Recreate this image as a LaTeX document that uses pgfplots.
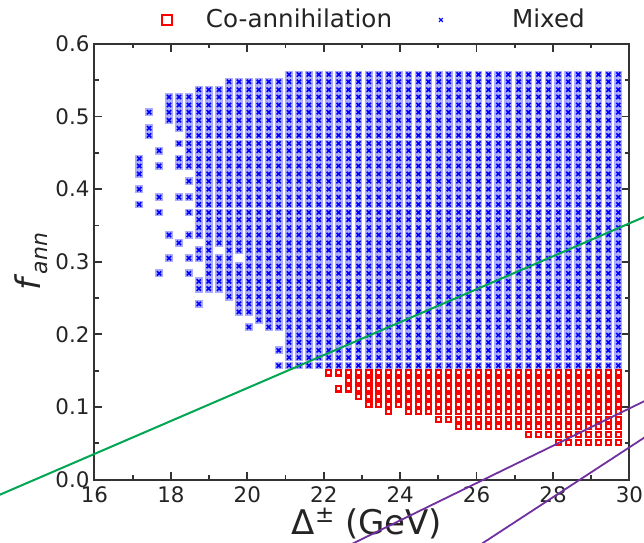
\documentclass[border=0pt]{standalone}
\usepackage{pgfplots}
\pgfplotsset{compat=1.18}
\usepackage{pgfplotstable}
\usepackage{fontspec}
\setmainfont{DejaVu Sans}

\definecolor{mixblue}{RGB}{0,0,255}
\definecolor{haloblue}{RGB}{172,172,255}
\definecolor{coared}{RGB}{255,0,0}
\definecolor{cutgreen}{RGB}{0,166,81}
\definecolor{cutpurple}{RGB}{112,48,160}
\definecolor{axisgray}{RGB}{51,51,51}

% Scan points classified as "Mixed" (Delta^pm in GeV, f_ann)
\pgfplotstableread{
x y
17.17 0.379
17.17 0.400
17.17 0.421
17.17 0.432
17.17 0.442
17.43 0.474
17.43 0.484
17.43 0.506
17.69 0.284
17.69 0.368
17.69 0.389
17.69 0.432
17.69 0.453
17.95 0.305
17.95 0.337
17.95 0.495
17.95 0.506
17.95 0.516
17.95 0.527
18.21 0.326
18.21 0.389
18.21 0.432
18.21 0.442
18.21 0.463
18.21 0.484
18.21 0.495
18.21 0.506
18.21 0.516
18.21 0.527
18.47 0.284
18.47 0.305
18.47 0.337
18.47 0.368
18.47 0.389
18.47 0.411
18.47 0.432
18.47 0.442
18.47 0.453
18.47 0.463
18.47 0.474
18.47 0.484
18.47 0.495
18.47 0.506
18.47 0.516
18.47 0.527
18.73 0.242
18.73 0.263
18.73 0.273
18.73 0.305
18.73 0.316
18.73 0.337
18.73 0.347
18.73 0.358
18.73 0.368
18.73 0.379
18.73 0.389
18.73 0.400
18.73 0.411
18.73 0.421
18.73 0.432
18.73 0.442
18.73 0.453
18.73 0.463
18.73 0.474
18.73 0.484
18.73 0.495
18.73 0.506
18.73 0.516
18.73 0.527
18.73 0.537
18.99 0.263
18.99 0.273
18.99 0.284
18.99 0.294
18.99 0.305
18.99 0.316
18.99 0.326
18.99 0.337
18.99 0.347
18.99 0.358
18.99 0.368
18.99 0.379
18.99 0.389
18.99 0.400
18.99 0.411
18.99 0.421
18.99 0.432
18.99 0.442
18.99 0.453
18.99 0.463
18.99 0.474
18.99 0.484
18.99 0.495
18.99 0.506
18.99 0.516
18.99 0.527
18.99 0.537
19.26 0.263
19.26 0.273
19.26 0.284
19.26 0.294
19.26 0.305
19.26 0.326
19.26 0.337
19.26 0.347
19.26 0.358
19.26 0.368
19.26 0.379
19.26 0.389
19.26 0.400
19.26 0.411
19.26 0.421
19.26 0.432
19.26 0.442
19.26 0.453
19.26 0.463
19.26 0.474
19.26 0.484
19.26 0.495
19.26 0.506
19.26 0.516
19.26 0.527
19.26 0.537
19.52 0.252
19.52 0.263
19.52 0.273
19.52 0.284
19.52 0.294
19.52 0.305
19.52 0.316
19.52 0.326
19.52 0.337
19.52 0.347
19.52 0.358
19.52 0.368
19.52 0.379
19.52 0.389
19.52 0.400
19.52 0.411
19.52 0.421
19.52 0.432
19.52 0.442
19.52 0.453
19.52 0.463
19.52 0.474
19.52 0.484
19.52 0.495
19.52 0.506
19.52 0.516
19.52 0.527
19.52 0.537
19.52 0.548
19.78 0.231
19.78 0.242
19.78 0.252
19.78 0.263
19.78 0.273
19.78 0.284
19.78 0.294
19.78 0.316
19.78 0.326
19.78 0.337
19.78 0.347
19.78 0.358
19.78 0.368
19.78 0.379
19.78 0.389
19.78 0.400
19.78 0.411
19.78 0.421
19.78 0.432
19.78 0.442
19.78 0.453
19.78 0.463
19.78 0.474
19.78 0.484
19.78 0.495
19.78 0.506
19.78 0.516
19.78 0.527
19.78 0.537
19.78 0.548
20.04 0.210
20.04 0.231
20.04 0.242
20.04 0.252
20.04 0.263
20.04 0.273
20.04 0.284
20.04 0.294
20.04 0.305
20.04 0.316
20.04 0.326
20.04 0.337
20.04 0.347
20.04 0.358
20.04 0.368
20.04 0.379
20.04 0.389
20.04 0.400
20.04 0.411
20.04 0.421
20.04 0.432
20.04 0.442
20.04 0.453
20.04 0.463
20.04 0.474
20.04 0.484
20.04 0.495
20.04 0.506
20.04 0.516
20.04 0.527
20.04 0.537
20.04 0.548
20.30 0.220
20.30 0.231
20.30 0.242
20.30 0.252
20.30 0.263
20.30 0.273
20.30 0.284
20.30 0.294
20.30 0.305
20.30 0.316
20.30 0.326
20.30 0.337
20.30 0.347
20.30 0.358
20.30 0.368
20.30 0.379
20.30 0.389
20.30 0.400
20.30 0.411
20.30 0.421
20.30 0.432
20.30 0.442
20.30 0.453
20.30 0.463
20.30 0.474
20.30 0.484
20.30 0.495
20.30 0.506
20.30 0.516
20.30 0.527
20.30 0.537
20.30 0.548
20.56 0.210
20.56 0.220
20.56 0.231
20.56 0.242
20.56 0.252
20.56 0.263
20.56 0.273
20.56 0.284
20.56 0.294
20.56 0.305
20.56 0.316
20.56 0.326
20.56 0.337
20.56 0.347
20.56 0.358
20.56 0.368
20.56 0.379
20.56 0.389
20.56 0.400
20.56 0.411
20.56 0.421
20.56 0.432
20.56 0.442
20.56 0.453
20.56 0.463
20.56 0.474
20.56 0.484
20.56 0.495
20.56 0.506
20.56 0.516
20.56 0.527
20.56 0.537
20.56 0.548
20.82 0.157
20.82 0.178
20.82 0.210
20.82 0.220
20.82 0.231
20.82 0.242
20.82 0.252
20.82 0.263
20.82 0.273
20.82 0.284
20.82 0.294
20.82 0.305
20.82 0.316
20.82 0.326
20.82 0.337
20.82 0.347
20.82 0.358
20.82 0.368
20.82 0.379
20.82 0.389
20.82 0.400
20.82 0.411
20.82 0.421
20.82 0.432
20.82 0.442
20.82 0.453
20.82 0.463
20.82 0.474
20.82 0.484
20.82 0.495
20.82 0.506
20.82 0.516
20.82 0.527
20.82 0.537
20.82 0.548
21.09 0.157
21.09 0.168
21.09 0.178
21.09 0.189
21.09 0.199
21.09 0.210
21.09 0.220
21.09 0.231
21.09 0.242
21.09 0.252
21.09 0.263
21.09 0.273
21.09 0.284
21.09 0.294
21.09 0.305
21.09 0.316
21.09 0.326
21.09 0.337
21.09 0.347
21.09 0.358
21.09 0.368
21.09 0.379
21.09 0.389
21.09 0.400
21.09 0.411
21.09 0.421
21.09 0.432
21.09 0.442
21.09 0.453
21.09 0.463
21.09 0.474
21.09 0.484
21.09 0.495
21.09 0.506
21.09 0.516
21.09 0.527
21.09 0.537
21.09 0.548
21.09 0.558
21.35 0.157
21.35 0.168
21.35 0.178
21.35 0.189
21.35 0.199
21.35 0.210
21.35 0.220
21.35 0.231
21.35 0.242
21.35 0.252
21.35 0.263
21.35 0.273
21.35 0.284
21.35 0.294
21.35 0.305
21.35 0.316
21.35 0.326
21.35 0.337
21.35 0.347
21.35 0.358
21.35 0.368
21.35 0.379
21.35 0.389
21.35 0.400
21.35 0.411
21.35 0.421
21.35 0.432
21.35 0.442
21.35 0.453
21.35 0.463
21.35 0.474
21.35 0.484
21.35 0.495
21.35 0.506
21.35 0.516
21.35 0.527
21.35 0.537
21.35 0.548
21.35 0.558
21.61 0.157
21.61 0.168
21.61 0.178
21.61 0.189
21.61 0.199
21.61 0.210
21.61 0.220
21.61 0.231
21.61 0.242
21.61 0.252
21.61 0.263
21.61 0.273
21.61 0.284
21.61 0.294
21.61 0.305
21.61 0.316
21.61 0.326
21.61 0.337
21.61 0.347
21.61 0.358
21.61 0.368
21.61 0.379
21.61 0.389
21.61 0.400
21.61 0.411
21.61 0.421
21.61 0.432
21.61 0.442
21.61 0.453
21.61 0.463
21.61 0.474
21.61 0.484
21.61 0.495
21.61 0.506
21.61 0.516
21.61 0.527
21.61 0.537
21.61 0.548
21.61 0.558
21.87 0.157
21.87 0.168
21.87 0.178
21.87 0.189
21.87 0.199
21.87 0.210
21.87 0.220
21.87 0.231
21.87 0.242
21.87 0.252
21.87 0.263
21.87 0.273
21.87 0.284
21.87 0.294
21.87 0.305
21.87 0.316
21.87 0.326
21.87 0.337
21.87 0.347
21.87 0.358
21.87 0.368
21.87 0.379
21.87 0.389
21.87 0.400
21.87 0.411
21.87 0.421
21.87 0.432
21.87 0.442
21.87 0.453
21.87 0.463
21.87 0.474
21.87 0.484
21.87 0.495
21.87 0.506
21.87 0.516
21.87 0.527
21.87 0.537
21.87 0.548
21.87 0.558
22.13 0.157
22.13 0.168
22.13 0.178
22.13 0.189
22.13 0.199
22.13 0.210
22.13 0.220
22.13 0.231
22.13 0.242
22.13 0.252
22.13 0.263
22.13 0.273
22.13 0.284
22.13 0.294
22.13 0.305
22.13 0.316
22.13 0.326
22.13 0.337
22.13 0.347
22.13 0.358
22.13 0.368
22.13 0.379
22.13 0.389
22.13 0.400
22.13 0.411
22.13 0.421
22.13 0.432
22.13 0.442
22.13 0.453
22.13 0.463
22.13 0.474
22.13 0.484
22.13 0.495
22.13 0.506
22.13 0.516
22.13 0.527
22.13 0.537
22.13 0.548
22.13 0.558
22.39 0.157
22.39 0.168
22.39 0.178
22.39 0.189
22.39 0.199
22.39 0.210
22.39 0.220
22.39 0.231
22.39 0.242
22.39 0.252
22.39 0.263
22.39 0.273
22.39 0.284
22.39 0.294
22.39 0.305
22.39 0.316
22.39 0.326
22.39 0.337
22.39 0.347
22.39 0.358
22.39 0.368
22.39 0.379
22.39 0.389
22.39 0.400
22.39 0.411
22.39 0.421
22.39 0.432
22.39 0.442
22.39 0.453
22.39 0.463
22.39 0.474
22.39 0.484
22.39 0.495
22.39 0.506
22.39 0.516
22.39 0.527
22.39 0.537
22.39 0.548
22.39 0.558
22.65 0.157
22.65 0.168
22.65 0.178
22.65 0.189
22.65 0.199
22.65 0.210
22.65 0.220
22.65 0.231
22.65 0.242
22.65 0.252
22.65 0.263
22.65 0.273
22.65 0.284
22.65 0.294
22.65 0.305
22.65 0.316
22.65 0.326
22.65 0.337
22.65 0.347
22.65 0.358
22.65 0.368
22.65 0.379
22.65 0.389
22.65 0.400
22.65 0.411
22.65 0.421
22.65 0.432
22.65 0.442
22.65 0.453
22.65 0.463
22.65 0.474
22.65 0.484
22.65 0.495
22.65 0.506
22.65 0.516
22.65 0.527
22.65 0.537
22.65 0.548
22.65 0.558
22.91 0.157
22.91 0.168
22.91 0.178
22.91 0.189
22.91 0.199
22.91 0.210
22.91 0.220
22.91 0.231
22.91 0.242
22.91 0.252
22.91 0.263
22.91 0.273
22.91 0.284
22.91 0.294
22.91 0.305
22.91 0.316
22.91 0.326
22.91 0.337
22.91 0.347
22.91 0.358
22.91 0.368
22.91 0.379
22.91 0.389
22.91 0.400
22.91 0.411
22.91 0.421
22.91 0.432
22.91 0.442
22.91 0.453
22.91 0.463
22.91 0.474
22.91 0.484
22.91 0.495
22.91 0.506
22.91 0.516
22.91 0.527
22.91 0.537
22.91 0.548
22.91 0.558
23.18 0.157
23.18 0.168
23.18 0.178
23.18 0.189
23.18 0.199
23.18 0.210
23.18 0.220
23.18 0.231
23.18 0.242
23.18 0.252
23.18 0.263
23.18 0.273
23.18 0.284
23.18 0.294
23.18 0.305
23.18 0.316
23.18 0.326
23.18 0.337
23.18 0.347
23.18 0.358
23.18 0.368
23.18 0.379
23.18 0.389
23.18 0.400
23.18 0.411
23.18 0.421
23.18 0.432
23.18 0.442
23.18 0.453
23.18 0.463
23.18 0.474
23.18 0.484
23.18 0.495
23.18 0.506
23.18 0.516
23.18 0.527
23.18 0.537
23.18 0.548
23.18 0.558
23.44 0.157
23.44 0.168
23.44 0.178
23.44 0.189
23.44 0.199
23.44 0.210
23.44 0.220
23.44 0.231
23.44 0.242
23.44 0.252
23.44 0.263
23.44 0.273
23.44 0.284
23.44 0.294
23.44 0.305
23.44 0.316
23.44 0.326
23.44 0.337
23.44 0.347
23.44 0.358
23.44 0.368
23.44 0.379
23.44 0.389
23.44 0.400
23.44 0.411
23.44 0.421
23.44 0.432
23.44 0.442
23.44 0.453
23.44 0.463
23.44 0.474
23.44 0.484
23.44 0.495
23.44 0.506
23.44 0.516
23.44 0.527
23.44 0.537
23.44 0.548
23.44 0.558
23.70 0.157
23.70 0.168
23.70 0.178
23.70 0.189
23.70 0.199
23.70 0.210
23.70 0.220
23.70 0.231
23.70 0.242
23.70 0.252
23.70 0.263
23.70 0.273
23.70 0.284
23.70 0.294
23.70 0.305
23.70 0.316
23.70 0.326
23.70 0.337
23.70 0.347
23.70 0.358
23.70 0.368
23.70 0.379
23.70 0.389
23.70 0.400
23.70 0.411
23.70 0.421
23.70 0.432
23.70 0.442
23.70 0.453
23.70 0.463
23.70 0.474
23.70 0.484
23.70 0.495
23.70 0.506
23.70 0.516
23.70 0.527
23.70 0.537
23.70 0.548
23.70 0.558
23.96 0.157
23.96 0.168
23.96 0.178
23.96 0.189
23.96 0.199
23.96 0.210
23.96 0.220
23.96 0.231
23.96 0.242
23.96 0.252
23.96 0.263
23.96 0.273
23.96 0.284
23.96 0.294
23.96 0.305
23.96 0.316
23.96 0.326
23.96 0.337
23.96 0.347
23.96 0.358
23.96 0.368
23.96 0.379
23.96 0.389
23.96 0.400
23.96 0.411
23.96 0.421
23.96 0.432
23.96 0.442
23.96 0.453
23.96 0.463
23.96 0.474
23.96 0.484
23.96 0.495
23.96 0.506
23.96 0.516
23.96 0.527
23.96 0.537
23.96 0.548
23.96 0.558
24.22 0.157
24.22 0.168
24.22 0.178
24.22 0.189
24.22 0.199
24.22 0.210
24.22 0.220
24.22 0.231
24.22 0.242
24.22 0.252
24.22 0.263
24.22 0.273
24.22 0.284
24.22 0.294
24.22 0.305
24.22 0.316
24.22 0.326
24.22 0.337
24.22 0.347
24.22 0.358
24.22 0.368
24.22 0.379
24.22 0.389
24.22 0.400
24.22 0.411
24.22 0.421
24.22 0.432
24.22 0.442
24.22 0.453
24.22 0.463
24.22 0.474
24.22 0.484
24.22 0.495
24.22 0.506
24.22 0.516
24.22 0.527
24.22 0.537
24.22 0.548
24.22 0.558
24.48 0.157
24.48 0.168
24.48 0.178
24.48 0.189
24.48 0.199
24.48 0.210
24.48 0.220
24.48 0.231
24.48 0.242
24.48 0.252
24.48 0.263
24.48 0.273
24.48 0.284
24.48 0.294
24.48 0.305
24.48 0.316
24.48 0.326
24.48 0.337
24.48 0.347
24.48 0.358
24.48 0.368
24.48 0.379
24.48 0.389
24.48 0.400
24.48 0.411
24.48 0.421
24.48 0.432
24.48 0.442
24.48 0.453
24.48 0.463
24.48 0.474
24.48 0.484
24.48 0.495
24.48 0.506
24.48 0.516
24.48 0.527
24.48 0.537
24.48 0.548
24.48 0.558
24.74 0.157
24.74 0.168
24.74 0.178
24.74 0.189
24.74 0.199
24.74 0.210
24.74 0.220
24.74 0.231
24.74 0.242
24.74 0.252
24.74 0.263
24.74 0.273
24.74 0.284
24.74 0.294
24.74 0.305
24.74 0.316
24.74 0.326
24.74 0.337
24.74 0.347
24.74 0.358
24.74 0.368
24.74 0.379
24.74 0.389
24.74 0.400
24.74 0.411
24.74 0.421
24.74 0.432
24.74 0.442
24.74 0.453
24.74 0.463
24.74 0.474
24.74 0.484
24.74 0.495
24.74 0.506
24.74 0.516
24.74 0.527
24.74 0.537
24.74 0.548
24.74 0.558
25.01 0.157
25.01 0.168
25.01 0.178
25.01 0.189
25.01 0.199
25.01 0.210
25.01 0.220
25.01 0.231
25.01 0.242
25.01 0.252
25.01 0.263
25.01 0.273
25.01 0.284
25.01 0.294
25.01 0.305
25.01 0.316
25.01 0.326
25.01 0.337
25.01 0.347
25.01 0.358
25.01 0.368
25.01 0.379
25.01 0.389
25.01 0.400
25.01 0.411
25.01 0.421
25.01 0.432
25.01 0.442
25.01 0.453
25.01 0.463
25.01 0.474
25.01 0.484
25.01 0.495
25.01 0.506
25.01 0.516
25.01 0.527
25.01 0.537
25.01 0.548
25.01 0.558
25.27 0.157
25.27 0.168
25.27 0.178
25.27 0.189
25.27 0.199
25.27 0.210
25.27 0.220
25.27 0.231
25.27 0.242
25.27 0.252
25.27 0.263
25.27 0.273
25.27 0.284
25.27 0.294
25.27 0.305
25.27 0.316
25.27 0.326
25.27 0.337
25.27 0.347
25.27 0.358
25.27 0.368
25.27 0.379
25.27 0.389
25.27 0.400
25.27 0.411
25.27 0.421
25.27 0.432
25.27 0.442
25.27 0.453
25.27 0.463
25.27 0.474
25.27 0.484
25.27 0.495
25.27 0.506
25.27 0.516
25.27 0.527
25.27 0.537
25.27 0.548
25.27 0.558
25.53 0.157
25.53 0.168
25.53 0.178
25.53 0.189
25.53 0.199
25.53 0.210
25.53 0.220
25.53 0.231
25.53 0.242
25.53 0.252
25.53 0.263
25.53 0.273
25.53 0.284
25.53 0.294
25.53 0.305
25.53 0.316
25.53 0.326
25.53 0.337
25.53 0.347
25.53 0.358
25.53 0.368
25.53 0.379
25.53 0.389
25.53 0.400
25.53 0.411
25.53 0.421
25.53 0.432
25.53 0.442
25.53 0.453
25.53 0.463
25.53 0.474
25.53 0.484
25.53 0.495
25.53 0.506
25.53 0.516
25.53 0.527
25.53 0.537
25.53 0.548
25.53 0.558
25.79 0.157
25.79 0.168
25.79 0.178
25.79 0.189
25.79 0.199
25.79 0.210
25.79 0.220
25.79 0.231
25.79 0.242
25.79 0.252
25.79 0.263
25.79 0.273
25.79 0.284
25.79 0.294
25.79 0.305
25.79 0.316
25.79 0.326
25.79 0.337
25.79 0.347
25.79 0.358
25.79 0.368
25.79 0.379
25.79 0.389
25.79 0.400
25.79 0.411
25.79 0.421
25.79 0.432
25.79 0.442
25.79 0.453
25.79 0.463
25.79 0.474
25.79 0.484
25.79 0.495
25.79 0.506
25.79 0.516
25.79 0.527
25.79 0.537
25.79 0.548
25.79 0.558
26.05 0.157
26.05 0.168
26.05 0.178
26.05 0.189
26.05 0.199
26.05 0.210
26.05 0.220
26.05 0.231
26.05 0.242
26.05 0.252
26.05 0.263
26.05 0.273
26.05 0.284
26.05 0.294
26.05 0.305
26.05 0.316
26.05 0.326
26.05 0.337
26.05 0.347
26.05 0.358
26.05 0.368
26.05 0.379
26.05 0.389
26.05 0.400
26.05 0.411
26.05 0.421
26.05 0.432
26.05 0.442
26.05 0.453
26.05 0.463
26.05 0.474
26.05 0.484
26.05 0.495
26.05 0.506
26.05 0.516
26.05 0.527
26.05 0.537
26.05 0.548
26.05 0.558
26.31 0.157
26.31 0.168
26.31 0.178
26.31 0.189
26.31 0.199
26.31 0.210
26.31 0.220
26.31 0.231
26.31 0.242
26.31 0.252
26.31 0.263
26.31 0.273
26.31 0.284
26.31 0.294
26.31 0.305
26.31 0.316
26.31 0.326
26.31 0.337
26.31 0.347
26.31 0.358
26.31 0.368
26.31 0.379
26.31 0.389
26.31 0.400
26.31 0.411
26.31 0.421
26.31 0.432
26.31 0.442
26.31 0.453
26.31 0.463
26.31 0.474
26.31 0.484
26.31 0.495
26.31 0.506
26.31 0.516
26.31 0.527
26.31 0.537
26.31 0.548
26.31 0.558
26.57 0.157
26.57 0.168
26.57 0.178
26.57 0.189
26.57 0.199
26.57 0.210
26.57 0.220
26.57 0.231
26.57 0.242
26.57 0.252
26.57 0.263
26.57 0.273
26.57 0.284
26.57 0.294
26.57 0.305
26.57 0.316
26.57 0.326
26.57 0.337
26.57 0.347
26.57 0.358
26.57 0.368
26.57 0.379
26.57 0.389
26.57 0.400
26.57 0.411
26.57 0.421
26.57 0.432
26.57 0.442
26.57 0.453
26.57 0.463
26.57 0.474
26.57 0.484
26.57 0.495
26.57 0.506
26.57 0.516
26.57 0.527
26.57 0.537
26.57 0.548
26.57 0.558
26.83 0.157
26.83 0.168
26.83 0.178
26.83 0.189
26.83 0.199
26.83 0.210
26.83 0.220
26.83 0.231
26.83 0.242
26.83 0.252
26.83 0.263
26.83 0.273
26.83 0.284
26.83 0.294
26.83 0.305
26.83 0.316
26.83 0.326
26.83 0.337
26.83 0.347
26.83 0.358
26.83 0.368
26.83 0.379
26.83 0.389
26.83 0.400
26.83 0.411
26.83 0.421
26.83 0.432
26.83 0.442
26.83 0.453
26.83 0.463
26.83 0.474
26.83 0.484
26.83 0.495
26.83 0.506
26.83 0.516
26.83 0.527
26.83 0.537
26.83 0.548
26.83 0.558
27.10 0.157
27.10 0.168
27.10 0.178
27.10 0.189
27.10 0.199
27.10 0.210
27.10 0.220
27.10 0.231
27.10 0.242
27.10 0.252
27.10 0.263
27.10 0.273
27.10 0.284
27.10 0.294
27.10 0.305
27.10 0.316
27.10 0.326
27.10 0.337
27.10 0.347
27.10 0.358
27.10 0.368
27.10 0.379
27.10 0.389
27.10 0.400
27.10 0.411
27.10 0.421
27.10 0.432
27.10 0.442
27.10 0.453
27.10 0.463
27.10 0.474
27.10 0.484
27.10 0.495
27.10 0.506
27.10 0.516
27.10 0.527
27.10 0.537
27.10 0.548
27.10 0.558
27.36 0.157
27.36 0.168
27.36 0.178
27.36 0.189
27.36 0.199
27.36 0.210
27.36 0.220
27.36 0.231
27.36 0.242
27.36 0.252
27.36 0.263
27.36 0.273
27.36 0.284
27.36 0.294
27.36 0.305
27.36 0.316
27.36 0.326
27.36 0.337
27.36 0.347
27.36 0.358
27.36 0.368
27.36 0.379
27.36 0.389
27.36 0.400
27.36 0.411
27.36 0.421
27.36 0.432
27.36 0.442
27.36 0.453
27.36 0.463
27.36 0.474
27.36 0.484
27.36 0.495
27.36 0.506
27.36 0.516
27.36 0.527
27.36 0.537
27.36 0.548
27.36 0.558
27.62 0.157
27.62 0.168
27.62 0.178
27.62 0.189
27.62 0.199
27.62 0.210
27.62 0.220
27.62 0.231
27.62 0.242
27.62 0.252
27.62 0.263
27.62 0.273
27.62 0.284
27.62 0.294
27.62 0.305
27.62 0.316
27.62 0.326
27.62 0.337
27.62 0.347
27.62 0.358
27.62 0.368
27.62 0.379
27.62 0.389
27.62 0.400
27.62 0.411
27.62 0.421
27.62 0.432
27.62 0.442
27.62 0.453
27.62 0.463
27.62 0.474
27.62 0.484
27.62 0.495
27.62 0.506
27.62 0.516
27.62 0.527
27.62 0.537
27.62 0.548
27.62 0.558
27.88 0.157
27.88 0.168
27.88 0.178
27.88 0.189
27.88 0.199
27.88 0.210
27.88 0.220
27.88 0.231
27.88 0.242
27.88 0.252
27.88 0.263
27.88 0.273
27.88 0.284
27.88 0.294
27.88 0.305
27.88 0.316
27.88 0.326
27.88 0.337
27.88 0.347
27.88 0.358
27.88 0.368
27.88 0.379
27.88 0.389
27.88 0.400
27.88 0.411
27.88 0.421
27.88 0.432
27.88 0.442
27.88 0.453
27.88 0.463
27.88 0.474
27.88 0.484
27.88 0.495
27.88 0.506
27.88 0.516
27.88 0.527
27.88 0.537
27.88 0.548
27.88 0.558
28.14 0.157
28.14 0.168
28.14 0.178
28.14 0.189
28.14 0.199
28.14 0.210
28.14 0.220
28.14 0.231
28.14 0.242
28.14 0.252
28.14 0.263
28.14 0.273
28.14 0.284
28.14 0.294
28.14 0.305
28.14 0.316
28.14 0.326
28.14 0.337
28.14 0.347
28.14 0.358
28.14 0.368
28.14 0.379
28.14 0.389
28.14 0.400
28.14 0.411
28.14 0.421
28.14 0.432
28.14 0.442
28.14 0.453
28.14 0.463
28.14 0.474
28.14 0.484
28.14 0.495
28.14 0.506
28.14 0.516
28.14 0.527
28.14 0.537
28.14 0.548
28.14 0.558
28.40 0.157
28.40 0.168
28.40 0.178
28.40 0.189
28.40 0.199
28.40 0.210
28.40 0.220
28.40 0.231
28.40 0.242
28.40 0.252
28.40 0.263
28.40 0.273
28.40 0.284
28.40 0.294
28.40 0.305
28.40 0.316
28.40 0.326
28.40 0.337
28.40 0.347
28.40 0.358
28.40 0.368
28.40 0.379
28.40 0.389
28.40 0.400
28.40 0.411
28.40 0.421
28.40 0.432
28.40 0.442
28.40 0.453
28.40 0.463
28.40 0.474
28.40 0.484
28.40 0.495
28.40 0.506
28.40 0.516
28.40 0.527
28.40 0.537
28.40 0.548
28.40 0.558
28.66 0.157
28.66 0.168
28.66 0.178
28.66 0.189
28.66 0.199
28.66 0.210
28.66 0.220
28.66 0.231
28.66 0.242
28.66 0.252
28.66 0.263
28.66 0.273
28.66 0.284
28.66 0.294
28.66 0.305
28.66 0.316
28.66 0.326
28.66 0.337
28.66 0.347
28.66 0.358
28.66 0.368
28.66 0.379
28.66 0.389
28.66 0.400
28.66 0.411
28.66 0.421
28.66 0.432
28.66 0.442
28.66 0.453
28.66 0.463
28.66 0.474
28.66 0.484
28.66 0.495
28.66 0.506
28.66 0.516
28.66 0.527
28.66 0.537
28.66 0.548
28.66 0.558
28.93 0.157
28.93 0.168
28.93 0.178
28.93 0.189
28.93 0.199
28.93 0.210
28.93 0.220
28.93 0.231
28.93 0.242
28.93 0.252
28.93 0.263
28.93 0.273
28.93 0.284
28.93 0.294
28.93 0.305
28.93 0.316
28.93 0.326
28.93 0.337
28.93 0.347
28.93 0.358
28.93 0.368
28.93 0.379
28.93 0.389
28.93 0.400
28.93 0.411
28.93 0.421
28.93 0.432
28.93 0.442
28.93 0.453
28.93 0.463
28.93 0.474
28.93 0.484
28.93 0.495
28.93 0.506
28.93 0.516
28.93 0.527
28.93 0.537
28.93 0.548
28.93 0.558
29.19 0.157
29.19 0.168
29.19 0.178
29.19 0.189
29.19 0.199
29.19 0.210
29.19 0.220
29.19 0.231
29.19 0.242
29.19 0.252
29.19 0.263
29.19 0.273
29.19 0.284
29.19 0.294
29.19 0.305
29.19 0.316
29.19 0.326
29.19 0.337
29.19 0.347
29.19 0.358
29.19 0.368
29.19 0.379
29.19 0.389
29.19 0.400
29.19 0.411
29.19 0.421
29.19 0.432
29.19 0.442
29.19 0.453
29.19 0.463
29.19 0.474
29.19 0.484
29.19 0.495
29.19 0.506
29.19 0.516
29.19 0.527
29.19 0.537
29.19 0.548
29.19 0.558
29.45 0.157
29.45 0.168
29.45 0.178
29.45 0.189
29.45 0.199
29.45 0.210
29.45 0.220
29.45 0.231
29.45 0.242
29.45 0.252
29.45 0.263
29.45 0.273
29.45 0.284
29.45 0.294
29.45 0.305
29.45 0.316
29.45 0.326
29.45 0.337
29.45 0.347
29.45 0.358
29.45 0.368
29.45 0.379
29.45 0.389
29.45 0.400
29.45 0.411
29.45 0.421
29.45 0.432
29.45 0.442
29.45 0.453
29.45 0.463
29.45 0.474
29.45 0.484
29.45 0.495
29.45 0.506
29.45 0.516
29.45 0.527
29.45 0.537
29.45 0.548
29.45 0.558
29.71 0.157
29.71 0.168
29.71 0.178
29.71 0.189
29.71 0.199
29.71 0.210
29.71 0.220
29.71 0.231
29.71 0.242
29.71 0.252
29.71 0.263
29.71 0.273
29.71 0.284
29.71 0.294
29.71 0.305
29.71 0.316
29.71 0.326
29.71 0.337
29.71 0.347
29.71 0.358
29.71 0.368
29.71 0.379
29.71 0.389
29.71 0.400
29.71 0.411
29.71 0.421
29.71 0.432
29.71 0.442
29.71 0.453
29.71 0.463
29.71 0.474
29.71 0.484
29.71 0.495
29.71 0.506
29.71 0.516
29.71 0.527
29.71 0.537
29.71 0.548
29.71 0.558
}\mixedtab

% Scan points classified as "Co-annihilation"
\pgfplotstableread{
x y
22.13 0.147
22.39 0.125
22.39 0.147
22.65 0.125
22.65 0.136
22.65 0.147
22.91 0.115
22.91 0.125
22.91 0.136
22.91 0.147
23.18 0.104
23.18 0.115
23.18 0.125
23.18 0.136
23.18 0.147
23.44 0.104
23.44 0.115
23.44 0.125
23.44 0.136
23.44 0.147
23.70 0.094
23.70 0.104
23.70 0.115
23.70 0.125
23.70 0.136
23.70 0.147
23.96 0.104
23.96 0.115
23.96 0.125
23.96 0.136
23.96 0.147
24.22 0.094
24.22 0.104
24.22 0.115
24.22 0.125
24.22 0.136
24.22 0.147
24.48 0.094
24.48 0.104
24.48 0.115
24.48 0.125
24.48 0.136
24.48 0.147
24.74 0.094
24.74 0.104
24.74 0.115
24.74 0.125
24.74 0.136
24.74 0.147
25.01 0.083
25.01 0.094
25.01 0.104
25.01 0.115
25.01 0.125
25.01 0.136
25.01 0.147
25.27 0.083
25.27 0.094
25.27 0.104
25.27 0.115
25.27 0.125
25.27 0.136
25.27 0.147
25.53 0.073
25.53 0.083
25.53 0.094
25.53 0.104
25.53 0.115
25.53 0.125
25.53 0.136
25.53 0.147
25.79 0.073
25.79 0.083
25.79 0.094
25.79 0.104
25.79 0.115
25.79 0.125
25.79 0.136
25.79 0.147
26.05 0.073
26.05 0.083
26.05 0.094
26.05 0.104
26.05 0.115
26.05 0.125
26.05 0.136
26.05 0.147
26.31 0.073
26.31 0.083
26.31 0.094
26.31 0.104
26.31 0.115
26.31 0.125
26.31 0.136
26.31 0.147
26.57 0.073
26.57 0.083
26.57 0.094
26.57 0.104
26.57 0.115
26.57 0.125
26.57 0.136
26.57 0.147
26.83 0.073
26.83 0.083
26.83 0.094
26.83 0.104
26.83 0.115
26.83 0.125
26.83 0.136
26.83 0.147
27.10 0.073
27.10 0.083
27.10 0.094
27.10 0.104
27.10 0.115
27.10 0.125
27.10 0.136
27.10 0.147
27.36 0.062
27.36 0.073
27.36 0.083
27.36 0.094
27.36 0.104
27.36 0.115
27.36 0.125
27.36 0.136
27.36 0.147
27.62 0.062
27.62 0.073
27.62 0.083
27.62 0.094
27.62 0.104
27.62 0.115
27.62 0.125
27.62 0.136
27.62 0.147
27.88 0.062
27.88 0.073
27.88 0.083
27.88 0.094
27.88 0.104
27.88 0.115
27.88 0.125
27.88 0.136
27.88 0.147
28.14 0.051
28.14 0.062
28.14 0.073
28.14 0.083
28.14 0.094
28.14 0.104
28.14 0.115
28.14 0.125
28.14 0.136
28.14 0.147
28.40 0.051
28.40 0.062
28.40 0.073
28.40 0.083
28.40 0.094
28.40 0.104
28.40 0.115
28.40 0.125
28.40 0.136
28.40 0.147
28.66 0.051
28.66 0.062
28.66 0.073
28.66 0.083
28.66 0.094
28.66 0.104
28.66 0.115
28.66 0.125
28.66 0.136
28.66 0.147
28.93 0.051
28.93 0.062
28.93 0.073
28.93 0.083
28.93 0.094
28.93 0.104
28.93 0.115
28.93 0.125
28.93 0.136
28.93 0.147
29.19 0.051
29.19 0.062
29.19 0.073
29.19 0.083
29.19 0.094
29.19 0.104
29.19 0.115
29.19 0.125
29.19 0.136
29.19 0.147
29.45 0.051
29.45 0.062
29.45 0.073
29.45 0.083
29.45 0.094
29.45 0.104
29.45 0.115
29.45 0.125
29.45 0.136
29.45 0.147
29.71 0.051
29.71 0.062
29.71 0.073
29.71 0.083
29.71 0.094
29.71 0.104
29.71 0.115
29.71 0.125
29.71 0.136
29.71 0.147
}\coanntab

\begin{document}
\begin{tikzpicture}
\begin{axis}[
  set layers,
  scale only axis,
  width=267.5pt, height=217.8pt,
  xmin=16, xmax=30, ymin=0, ymax=0.6,
  xtick={16,18,20,22,24,26,28,30},
  ytick={0,0.1,0.2,0.3,0.4,0.5,0.6},
  minor x tick num=1, minor y tick num=1,
  tick align=inside,
  major tick length=4pt, minor tick length=2.2pt,
  axis line style={axisgray, line width=1pt},
  every tick/.style={axisgray, line width=0.9pt},
  /pgf/number format/assume math mode=true,
  tick label style={font=\fontsize{10.7}{12}\selectfont, text=axisgray!70!black},
  yticklabel style={xshift=1pt, /pgf/number format/.cd, fixed, fixed zerofill, precision=1},
  xticklabel style={/pgf/number format/.cd, fixed, precision=0},
  xlabel={Δ\raisebox{0.36em}{\fontsize{11.5}{12}\selectfont ±} (GeV)},
  xlabel style={font=\fontsize{17}{20}\selectfont, text=axisgray!70!black,
    at={(axis description cs:0.5,0)}, anchor=center, yshift=-22pt, xshift=2.5pt},
  ylabel={\textit{f}{\fontsize{11}{12}\selectfont\raisebox{-0.3em}{\textit{ann}}}},
  ylabel style={font=\fontsize{17}{20}\selectfont, text=axisgray!70!black,
    at={(axis description cs:0,0.5)}, anchor=center, rotate=0, yshift=31.5pt},
  clip=false,
  legend columns=2,
  legend style={at={(axis description cs:0,1)}, anchor=west,
    xshift=33.75pt, yshift=12pt, draw=none, fill=none, inner sep=0pt,
    font=\fontsize{12.3}{14}\selectfont, text=axisgray!70!black,
    nodes={inner sep=0pt},
    /tikz/every odd column/.append style={column sep=17.2pt},
    /tikz/every even column/.append style={column sep=23.5pt}},
]
% light backing of each cross
\addplot[only marks, mark=square*, mark size=1.7pt, forget plot,
  mark options={fill=haloblue, draw=haloblue, line width=0pt}] table {\mixedtab};
\addplot[only marks, mark=x, mark size=1.5pt, forget plot,
  mixblue, line width=0.8pt] table {\mixedtab};
\addplot[only marks, mark=square, mark size=1.3pt, forget plot,
  coared, line width=1.1pt] table {\coanntab};

% constraint lines, drawn above the scan points
\addplot[cutgreen, line width=1pt, no marks, forget plot, on layer=axis foreground]
  coordinates {(13.4,-0.0237) (30.5,0.3643)};
\addplot[cutpurple, line width=0.9pt, no marks, forget plot, on layer=axis foreground]
  coordinates {(22.7,-0.0897) (30.5,0.1108)};
\addplot[cutpurple, line width=0.9pt, no marks, forget plot, on layer=axis foreground]
  coordinates {(26.0,-0.0931) (30.5,0.0616)};

\addlegendimage{only marks, mark=square, coared, mark size=2.3pt, line width=1pt}
\addlegendentry{Co-annihilation}
\addlegendimage{only marks, mark=x, mixblue, mark size=1.3pt, line width=0.6pt}
\addlegendentry{\hspace{17.5pt}Mixed}

\coordinate (pageSW) at (axis cs:13.527,-0.0873);
\coordinate (pageNE) at (axis cs:30.381,0.6606);
\end{axis}
\pgfresetboundingbox
\path[use as bounding box] (pageSW) rectangle (pageNE);
\end{tikzpicture}
\end{document}
